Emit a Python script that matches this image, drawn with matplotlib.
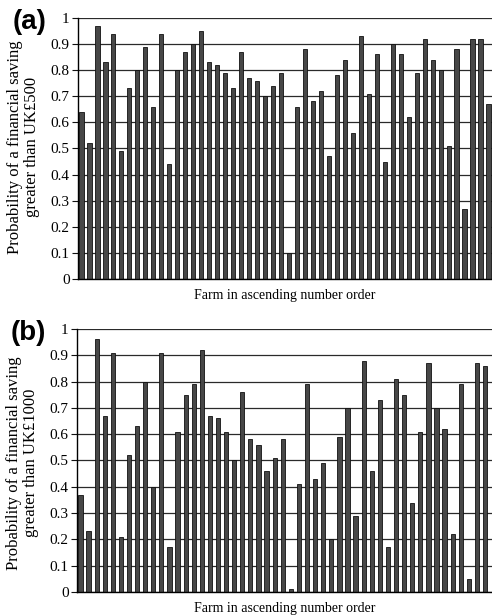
import matplotlib
matplotlib.use("Agg")
import matplotlib.pyplot as plt
import numpy as np

# Panel (a): probability of saving > UK£500
prob_500 = [0.64, 0.52, 0.97, 0.83, 0.94, 0.49, 0.73, 0.80, 0.89, 0.66,
            0.94, 0.44, 0.80, 0.87, 0.90, 0.95, 0.83, 0.82, 0.79, 0.73,
            0.87, 0.77, 0.76, 0.70, 0.74, 0.79, 0.10, 0.66, 0.88, 0.68,
            0.72, 0.47, 0.78, 0.84, 0.56, 0.93, 0.71, 0.86, 0.45, 0.90,
            0.86, 0.62, 0.79, 0.92, 0.84, 0.80, 0.51, 0.88, 0.27, 0.92,
            0.92, 0.67]
# Panel (b): probability of saving > UK£1000
prob_1000 = [0.37, 0.23, 0.96, 0.67, 0.91, 0.21, 0.52, 0.63, 0.80, 0.40,
             0.91, 0.17, 0.61, 0.75, 0.79, 0.92, 0.67, 0.66, 0.61, 0.50,
             0.76, 0.58, 0.56, 0.46, 0.51, 0.58, 0.01, 0.41, 0.79, 0.43,
             0.49, 0.20, 0.59, 0.70, 0.29, 0.88, 0.46, 0.73, 0.17, 0.81,
             0.75, 0.34, 0.61, 0.87, 0.70, 0.62, 0.22, 0.79, 0.05, 0.87,
             0.86]
yticks = [0, 0.1, 0.2, 0.3, 0.4, 0.5, 0.6, 0.7, 0.8, 0.9, 1]
ytick_labels = ["0", "0.1", "0.2", "0.3", "0.4", "0.5", "0.6", "0.7", "0.8", "0.9", "1"]
xlabel = "Farm in ascending number order"
ylabel_a = "Probability of a financial saving\ngreater than UK£500"
ylabel_b = "Probability of a financial saving\ngreater than UK£1000"

serif = ["Liberation Serif", "DejaVu Serif"]

fig = plt.figure(figsize=(4.92, 6.16), dpi=100)
ax_a = fig.add_axes([0.1585, 0.547, 0.8415, 0.424])
ax_b = fig.add_axes([0.1565, 0.039, 0.8435, 0.427])

def draw(ax, vals, xlim, ylabel, tag, ycen):
    x = np.arange(len(vals))
    ax.set_axisbelow(True)
    for t in yticks:
        ax.axhline(t, color="#2a2a2a", lw=0.9, zorder=0)
    ax.bar(x, vals, width=0.52, color="#474747", edgecolor="#111111",
           linewidth=0.6, zorder=2)
    ax.set_xlim(*xlim)
    ax.set_ylim(0, 1)
    ax.set_yticks(yticks)
    ax.set_yticklabels(ytick_labels, fontfamily=serif, fontsize=11)
    ax.set_xticks([])
    ax.tick_params(axis="y", length=4.5, width=0.8, pad=1.5, color="#111111")
    for s in ["top", "right"]:
        ax.spines[s].set_visible(False)
    ax.spines["left"].set_linewidth(1.0)
    ax.spines["bottom"].set_linewidth(1.0)
    ax.set_xlabel(xlabel, fontfamily=serif, fontsize=10, labelpad=7)
    ax.text(-0.132, ycen, ylabel, transform=ax.transAxes, fontsize=12,
            fontfamily=serif, rotation=90, ha="center", va="center",
            multialignment="center", linespacing=1.08)
    ax.text(-0.159, 0.985, tag, transform=ax.transAxes, fontsize=20,
            fontweight="bold", fontfamily=["Liberation Sans", "DejaVu Sans"],
            ha="left", va="center")

draw(ax_a, prob_500, (-0.44, 51.44), ylabel_a, "(a)", 0.505)
draw(ax_b, prob_1000, (-0.43, 50.86), ylabel_b, "(b)", 0.49)

fig.savefig("out.png", dpi=100)
